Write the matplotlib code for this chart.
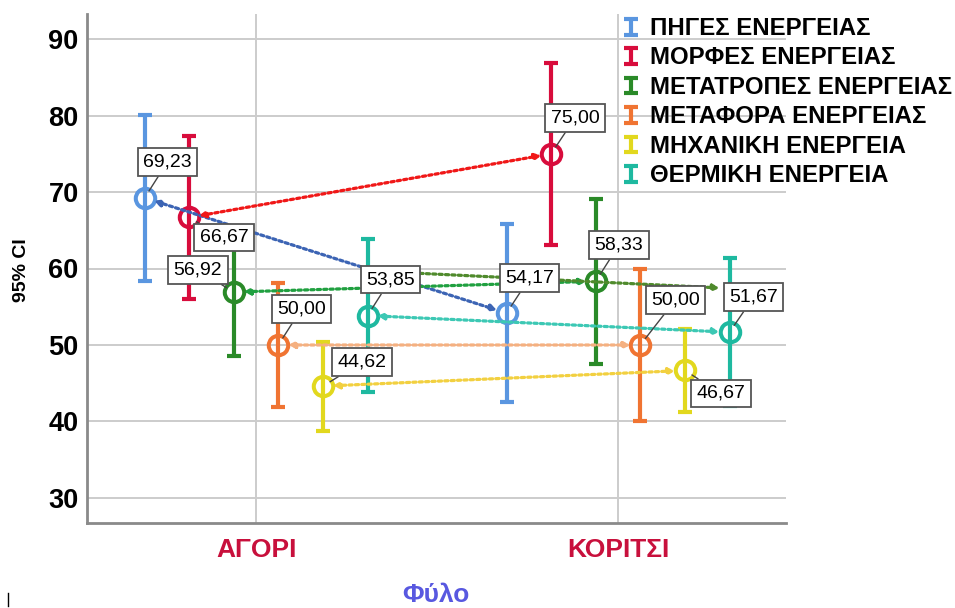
import matplotlib
matplotlib.use("Agg")
import matplotlib.pyplot as plt
from matplotlib.lines import Line2D
from matplotlib.container import ErrorbarContainer
from matplotlib.legend_handler import HandlerErrorbar

plt.rcParams["font.family"] = ["Liberation Sans", "DejaVu Sans"]

# data (means and 95% CI half widths)
categories = ["ΑΓΟΡΙ", "ΚΟΡΙΤΣΙ"]
series = ["ΠΗΓΕΣ ΕΝΕΡΓΕΙΑΣ", "ΜΟΡΦΕΣ ΕΝΕΡΓΕΙΑΣ", "ΜΕΤΑΤΡΟΠΕΣ ΕΝΕΡΓΕΙΑΣ",
          "ΜΕΤΑΦΟΡΑ ΕΝΕΡΓΕΙΑΣ", "ΜΗΧΑΝΙΚΗ ΕΝΕΡΓΕΙΑ", "ΘΕΡΜΙΚΗ ΕΝΕΡΓΕΙΑ"]
means_boys = [69.23, 66.67, 56.92, 50.00, 44.62, 53.85]
means_girls = [54.17, 75.00, 58.33, 50.00, 46.67, 51.67]
ci_boys = [10.8, 10.7, 8.4, 8.1, 5.8, 9.95]
ci_girls = [11.6, 11.9, 10.8, 9.9, 5.4, 9.7]
extra_arrow = [59.7, 57.4]  # stray olive arrow drawn over the teal series
yticks = [30, 40, 50, 60, 70, 80, 90]

bar_colors = ["#5a96e0", "#d80c3c", "#2a8a28", "#f07432", "#e2d81e", "#1eb9a0"]
line_colors = ["#3c64b4", "#f01818", "#20a040", "#f5b080", "#f2d040", "#3cc8b4"]
offsets_boys = [(23, 36), (35, -20), (-36, 22), (23, 36), (39, 24), (23, 36)]
offsets_girls = [(23, 35), (24, 36), (23, 36), (35, 45), (36, -23), (24, 35)]

fig = plt.figure(figsize=(9.55, 6.08), dpi=100)
ax = fig.add_axes([87 / 955, 1 - 523 / 608, (786 - 87) / 955, (523 - 14) / 608])

dots = (0, (1, 1))
step = 0.1232
n = len(series)
for i in range(n):
    dx = (i - (n - 1) / 2) * step
    xs = [0 + dx, 1 + dx]
    ys = [means_boys[i], means_girls[i]]
    errs = [ci_boys[i], ci_girls[i]]
    ax.errorbar(xs, ys, yerr=errs, fmt="none", ecolor=bar_colors[i],
                elinewidth=3, capsize=5, capthick=3, label=series[i], zorder=3)
    ax.plot(xs, ys, ls="none", marker="o", ms=14, mfc="none",
            mec=bar_colors[i], mew=2.9, zorder=4)
    ax.annotate("", xy=(xs[1], ys[1]), xytext=(xs[0], ys[0]),
                arrowprops=dict(arrowstyle="<|-|>", color=line_colors[i], lw=2.3,
                                ls=dots, mutation_scale=9, shrinkA=7, shrinkB=7),
                zorder=5)
    for x, y, off in zip(xs, ys, [offsets_boys[i], offsets_girls[i]]):
        ax.annotate(f"{y:.2f}".replace(".", ","), xy=(x, y), xytext=off,
                    textcoords="offset pixels", ha="center", va="center",
                    fontsize=14, color="black", zorder=7,
                    bbox=dict(boxstyle="square,pad=0.28", fc="white", ec="#555555", lw=1.3),
                    arrowprops=dict(arrowstyle="-", color="#444444", lw=1,
                                    shrinkA=0, shrinkB=6))

# the extra olive dotted arrow
tx = (n - 1) / 2 * step
ax.annotate("", xy=(1 + tx, extra_arrow[1]), xytext=(tx, extra_arrow[0]),
            arrowprops=dict(arrowstyle="<|-|>", color="#4f8a2c", lw=2.3, ls=dots,
                            mutation_scale=9, shrinkA=3, shrinkB=7), zorder=5)

ax.set_xlim(-0.467, 1.464)
ax.set_ylim(26.73, 93.27)
ax.set_xticks([0, 1])
ax.set_xticklabels(categories, fontsize=19, fontweight="bold", color="#c8103c")
ax.set_yticks(yticks)
ax.set_yticklabels([str(t) for t in yticks], fontsize=19.5, fontweight="bold")
ax.tick_params(axis="x", length=0, pad=11)
ax.tick_params(axis="y", length=0, pad=6)
ax.grid(True, color="#cccccc", lw=1.4, zorder=0)
ax.set_axisbelow(True)
for s in ["top", "right"]:
    ax.spines[s].set_visible(False)
for s in ["left", "bottom"]:
    ax.spines[s].set_color("#8a8a8a")
    ax.spines[s].set_linewidth(2)

leg = fig.legend(loc="upper left", bbox_to_anchor=(626 / 955, 1 - 17 / 608),
                 frameon=False, handlelength=0.45, handletextpad=0.55,
                 labelspacing=0.27, borderpad=0, borderaxespad=0,
                 prop={"weight": "bold", "size": 17.3},
                 handler_map={ErrorbarContainer: HandlerErrorbar(xerr_size=0.3, yerr_size=0.33)})

fig.text(22 / 955, 1 - 270 / 608, "95% CI", rotation=90, ha="center", va="center",
         fontsize=14, fontweight="bold")
fig.text(436 / 955, 1 - 595 / 608, "Φύλο", ha="center", va="center",
         fontsize=19, fontweight="bold", color="#5858e0")
fig.add_artist(Line2D([8 / 955, 8 / 955], [1 - 606 / 608, 1 - 593 / 608],
                      color="black", lw=1))

fig.savefig("out.png", dpi=100)
